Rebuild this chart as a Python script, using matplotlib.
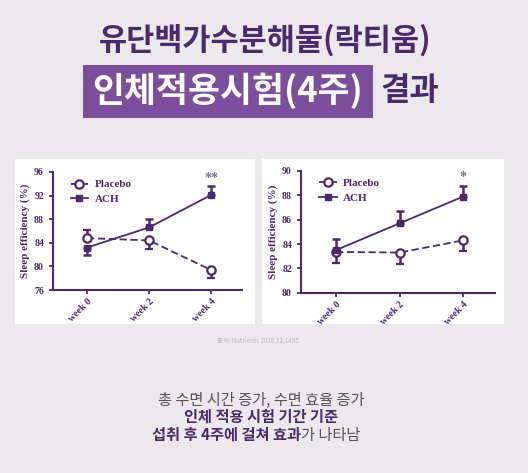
import matplotlib
matplotlib.use("Agg")
import matplotlib.pyplot as plt
from matplotlib.patches import Rectangle
import numpy as np

# data
weeks = ["week 0", "week 2", "week 4"]

left_placebo = [84.8, 84.4, 79.4]
left_placebo_err = [1.3, 1.4, 1.3]
left_ach = [83.2, 86.6, 92.1]
left_ach_err = [1.3, 1.4, 1.5]
left_stars = ["", "", "**"]

right_placebo = [83.35, 83.3, 84.3]
right_placebo_err = [0.95, 0.95, 0.9]
right_ach = [83.5, 85.7, 87.9]
right_ach_err = [0.9, 1.0, 0.9]
right_stars = ["", "", "*"]

title1 = "유단백가수분해물(락티움)"
title2 = "인체적용시험(4주)"
title2b = "결과"
source = "출처: Nutrients 2020,12,1495"
bottom1 = "총 수면 시간 증가, 수면 효율 증가"
bottom2 = "인체 적용 시험 기간 기준"
bottom3a = "섭취 후 4주에 걸쳐 효과"
bottom3b = "가 나타남"

DARK = "#4a2a6c"
BOX = "#7b4f9b"
GRAY = "#555259"
BG = "#ebe9ec"

W, H = 528, 473
fig = plt.figure(figsize=(W / 100, H / 100), dpi=100, facecolor=BG)


def fx(x):
    return x / W


def fy(y):
    return 1 - y / H


# white panels behind the charts
for x0, x1 in [(15, 255), (262, 504)]:
    fig.patches.append(Rectangle((fx(x0), fy(324)), fx(x1) - fx(x0), fy(159) - fy(324),
                                 transform=fig.transFigure, facecolor="white",
                                 edgecolor="none", zorder=-1))

# title
fig.text(fx(265), fy(40), title1, family="Noto Sans CJK KR", weight="bold",
         fontsize=22, color=DARK, ha="center", va="center")
fig.patches.append(Rectangle((fx(83), fy(118)), fx(373) - fx(83), fy(65) - fy(118),
                             transform=fig.transFigure, facecolor=BOX,
                             edgecolor="none", zorder=-1))
fig.text(fx(228), fy(91), title2, family="Noto Sans CJK KR", weight="heavy",
         fontsize=25, color="white", ha="center", va="center")
fig.text(fx(410), fy(91), title2b, family="Noto Sans CJK KR", weight="bold",
         fontsize=23, color=DARK, ha="center", va="center")

serif = {"family": "Liberation Serif", "weight": "bold"}


def draw_panel(rect, placebo, p_err, ach, a_err, stars, ylim, yticks):
    ax = fig.add_axes(rect, zorder=2)
    x = np.arange(len(weeks))
    # lower series gets its error bar downwards, upper series upwards
    p_lo = [e if p < a else 0 for p, a, e in zip(placebo, ach, p_err)]
    p_hi = [e if p >= a else 0 for p, a, e in zip(placebo, ach, p_err)]
    a_lo = [e if a < p else 0 for p, a, e in zip(placebo, ach, a_err)]
    a_hi = [e if a >= p else 0 for p, a, e in zip(placebo, ach, a_err)]

    ax.errorbar(x, placebo, yerr=[p_lo, p_hi], color=DARK, ls=(0, (4, 2)), lw=1.3,
                marker="o", ms=6, mfc="white", mec=DARK, mew=1.6,
                capsize=3, capthick=1.8, elinewidth=1.8, label="Placebo", zorder=3)
    ax.errorbar(x, ach, yerr=[a_lo, a_hi], color=DARK, ls="-", lw=1.3,
                marker="s", ms=5, mfc=DARK, mec=DARK,
                capsize=3, capthick=1.8, elinewidth=1.8, label="ACH", zorder=3)

    for i, s in enumerate(stars):
        if s:
            top = max(placebo[i] + p_hi[i], ach[i] + a_hi[i])
            ax.annotate(s, (x[i], top), xytext=(0, 1), textcoords="offset points",
                        ha="center", va="bottom", color="#7d6e8c", fontsize=10, **serif)

    ax.set_xlim(-0.55, 2.5)
    ax.set_ylim(*ylim)
    ax.set_yticks(yticks)
    ax.set_xticks(x)
    ax.set_xticklabels(weeks, rotation=45, ha="right", rotation_mode="anchor",
                       color=DARK, fontsize=7, **serif)
    for lab in ax.get_yticklabels():
        lab.set_fontfamily("Liberation Serif")
        lab.set_fontweight("bold")
    ax.tick_params(axis="both", colors=DARK, labelcolor=DARK, width=1.3, length=3,
                   labelsize=7, direction="out")
    ax.tick_params(axis="x", pad=2)
    ax.set_ylabel("Sleep efficiency (%)", color=DARK, fontsize=8, labelpad=3, **serif)
    for side in ["top", "right"]:
        ax.spines[side].set_visible(False)
    for side in ["left", "bottom"]:
        ax.spines[side].set_color(DARK)
        ax.spines[side].set_linewidth(1.5)
    ax.patch.set_alpha(0)

    handles, labels = ax.get_legend_handles_labels()
    handles = [h[0] for h in handles]
    ax.legend(handles, labels, loc="upper left", bbox_to_anchor=(0.04, 1.02),
              frameon=False, handlelength=1.6, handletextpad=0.6, labelspacing=0.45,
              prop={"family": "Liberation Serif", "weight": "bold", "size": 8},
              labelcolor=DARK)
    return ax


draw_panel([fx(53), fy(290), fx(242) - fx(53), fy(172) - fy(290)],
           left_placebo, left_placebo_err, left_ach, left_ach_err, left_stars,
           (76, 96), [76, 80, 84, 88, 92, 96])
draw_panel([fx(301), fy(292.7), fx(495) - fx(301), fy(171) - fy(292.7)],
           right_placebo, right_placebo_err, right_ach, right_ach_err, right_stars,
           (80, 90), [80, 82, 84, 86, 88, 90])

# source note and bottom text
fig.text(fx(258), fy(341), source, family="Noto Sans CJK KR", fontsize=4.5,
         color="#bdb9c2", ha="center", va="center")
fig.text(fx(261), fy(400), bottom1, family="Noto Sans CJK KR", fontsize=11,
         color=GRAY, ha="center", va="center")
fig.text(fx(261), fy(417), bottom2, family="Noto Sans CJK KR", weight="bold",
         fontsize=11, color=DARK, ha="center", va="center")
t3 = fig.text(fx(152), fy(435), bottom3a, family="Noto Sans CJK KR", weight="bold",
              fontsize=11, color=DARK, ha="left", va="center")
fig.canvas.draw()
bb = t3.get_window_extent()
fig.text(bb.x1 / W, fy(435), bottom3b, family="Noto Sans CJK KR",
         fontsize=11, color=GRAY, ha="left", va="center")
fig.savefig("out.png", dpi=100, facecolor=BG)
